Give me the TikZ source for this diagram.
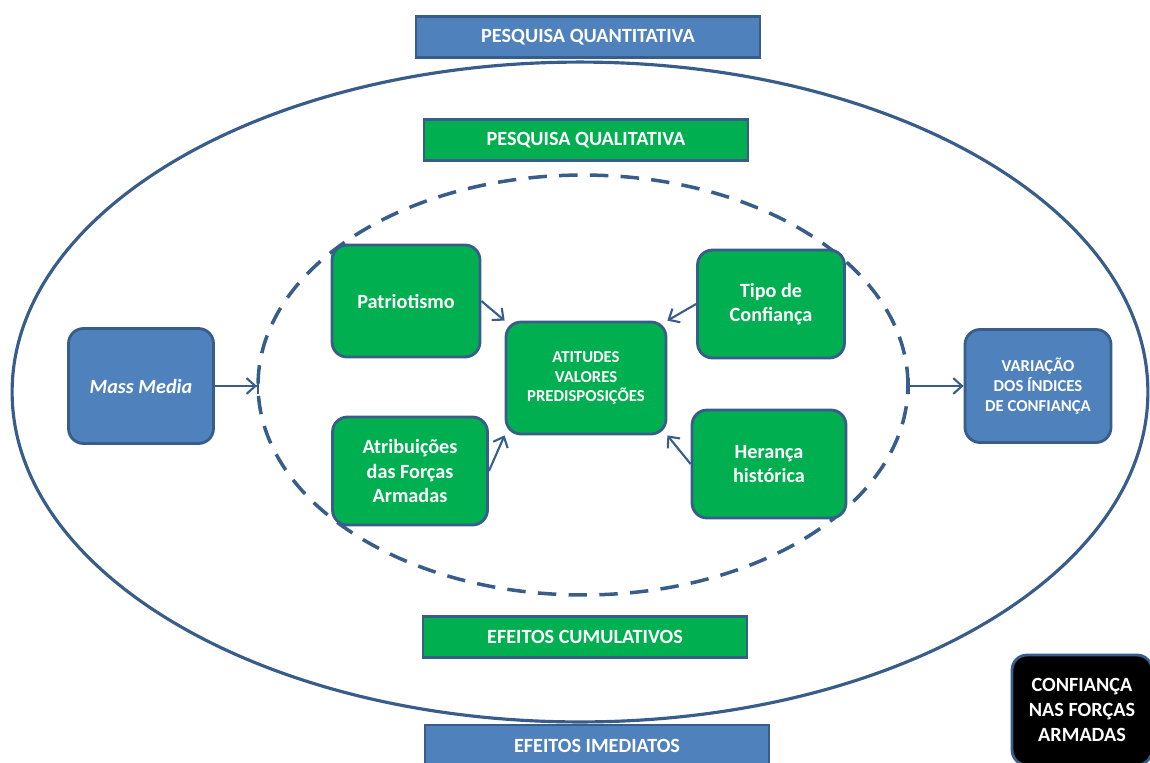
\documentclass[tikz,border=0pt]{standalone}
\usepackage{fontspec}
\setmainfont{Carlito}
\usepackage{xcolor}
\usetikzlibrary{arrows.meta}
\definecolor{boxblue}{HTML}{4F81BD}
\definecolor{lineblue}{HTML}{385D8A}
\definecolor{boxgreen}{HTML}{00B050}

\begin{document}
\begin{tikzpicture}[x=0.02cm,y=-0.02cm,
   flatbox/.style={draw=lineblue,line width=1.6pt,text=white,align=center,minimum height=0.82cm,font=\bfseries\fontsize{11.5}{14}\selectfont},
   roundbox/.style={flatbox,rounded corners=0.3cm},
   smalltext/.style={font=\bfseries\fontsize{9.5}{11.3}\selectfont},
   link/.style={lineblue,line width=1.2pt,-{Straight Barb[length=5pt,width=9pt]}}]
   \useasboundingbox (0,0) rectangle (1150,762);
   \draw[lineblue,line width=1.8pt] (580,392) ellipse [x radius=11.36cm,y radius=6.6cm];
   \draw[lineblue,line width=2pt,dash pattern=on 10.5pt off 7pt] (583,385) ellipse [x radius=6.5cm,y radius=4.2cm];
   \node[flatbox,fill=boxblue,minimum width=6.88cm] (quanti) at (588,37) {PESQUISA QUANTITATIVA};
   \node[flatbox,fill=boxgreen,minimum width=6.48cm] (quali) at (586,140) {PESQUISA QUALITATIVA};
   \node[flatbox,fill=boxgreen,minimum width=6.48cm] (cumul) at (585,637) {EFEITOS CUMULATIVOS};
   \node[flatbox,fill=boxblue,minimum width=6.88cm,minimum height=0.84cm] (imed) at (597,746) {EFEITOS IMEDIATOS};
   % inner boxes
   \node[roundbox,fill=boxgreen,minimum width=2.96cm,minimum height=2.24cm] (patr) at (406,301) {Patriotismo};
   \node[roundbox,fill=boxgreen,minimum width=2.94cm,minimum height=2.16cm] (tipo) at (771,304) {Tipo de\\Confiança};
   \node[roundbox,smalltext,fill=boxgreen,minimum width=3.2cm,minimum height=2.24cm] (atit) at (586,378) {ATITUDES\\VALORES\\PREDISPOSIÇÕES};
   \node[roundbox,fill=boxgreen,minimum width=3.1cm,minimum height=2.16cm] (atrib) at (410,471) {Atribuições\\das Forças\\Armadas};
   \node[roundbox,fill=boxgreen,minimum width=3.08cm,minimum height=2.16cm] (heran) at (769,464) {Herança\\histórica};
   \draw[link] (patr.east) -- (atit.north west);
   \draw[link] (tipo.west) -- (atit.north east);
   \draw[link] (atrib.east) -- (atit.south west);
   \draw[link] (heran.west) -- (atit.south east);
   % outside the circle
   \node[roundbox,fill=boxblue,minimum width=2.9cm,minimum height=2.3cm] (media) at (141,386) {\itshape Mass Media};
   \node[roundbox,smalltext,fill=boxblue,minimum width=2.92cm,minimum height=2.26cm] (varia) at (1038,386) {VARIAÇÃO\\DOS ÍNDICES\\DE CONFIANÇA};
   \coordinate (inL) at (259,386);
   \coordinate (inR) at (908,386);
   \draw[lineblue,line width=1.2pt,-{Straight Barb[length=5pt,width=9pt]Bar[width=9pt]}] (media.east) -- (inL);
   \draw[lineblue,line width=1.2pt,{Bar[width=9pt]}-{Straight Barb[length=5pt,width=9pt]}] (inR) -- (varia.west);
   \node[roundbox,fill=black,minimum width=2.8cm,minimum height=2.2cm] (conf) at (1082,710) {CONFIANÇA\\NAS FORÇAS\\ARMADAS};
\end{tikzpicture}
\end{document}
